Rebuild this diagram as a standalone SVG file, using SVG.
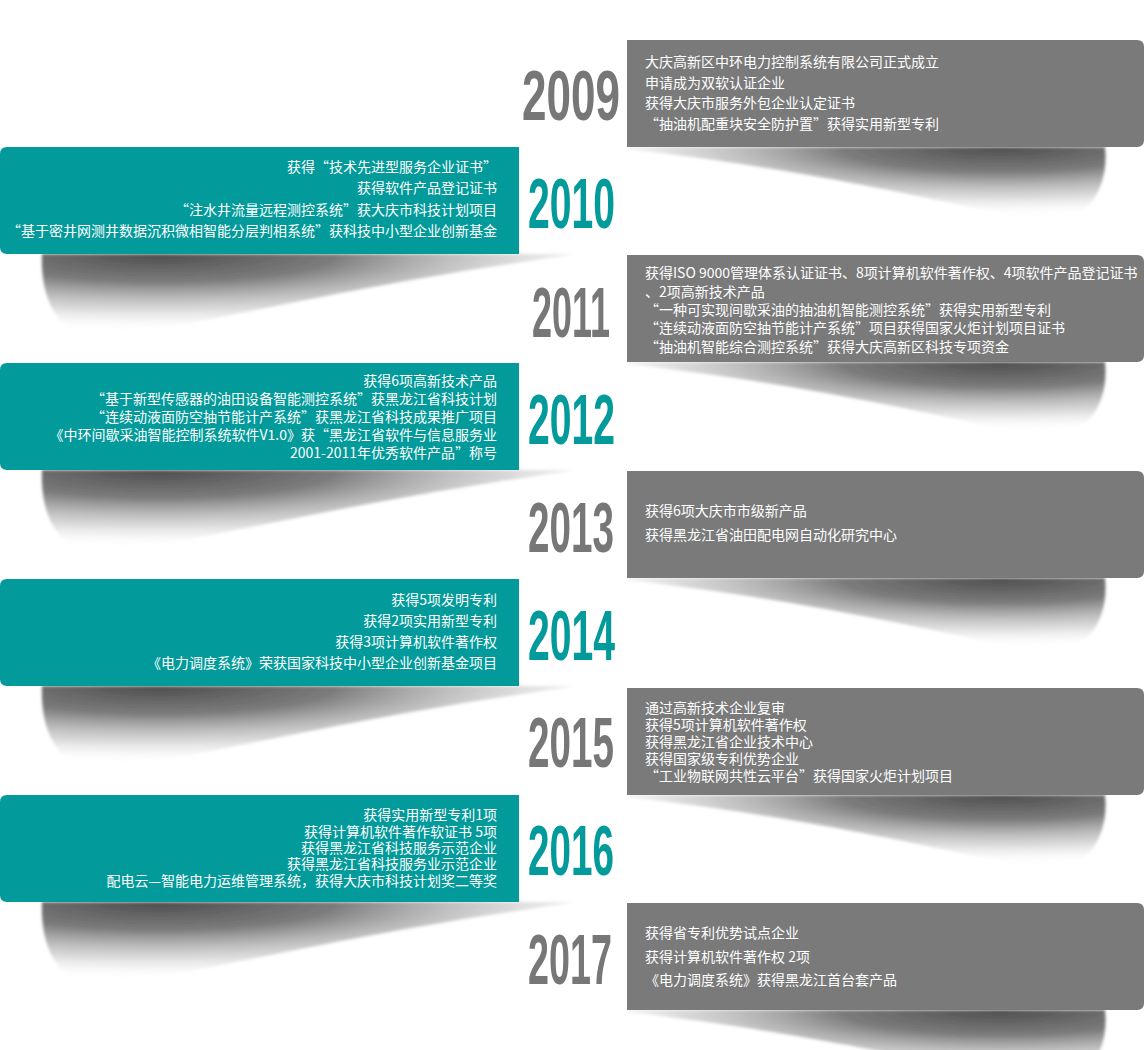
<svg xmlns="http://www.w3.org/2000/svg" width="1144" height="1050" viewBox="0 0 1144 1050">
<style>
.gbox{fill:#7a7a7a}
.tbox{fill:#029a9a}
.txt{font-family:"Noto Sans CJK SC","Liberation Sans",sans-serif;font-size:14px;fill:#ffffff}
.r{text-anchor:end}
.yr{font-family:"Liberation Sans","DejaVu Sans",sans-serif;font-weight:bold;font-size:70px}
.yg{fill:#777777}
.yt{fill:#029a9a}
</style>
<defs>
<radialGradient id="shR" cx="0.78" cy="0" r="0.95" fx="0.78" fy="0">
<stop offset="0" stop-color="#444444" stop-opacity="0.95"/>
<stop offset="0.35" stop-color="#5a5a5a" stop-opacity="0.8"/>
<stop offset="0.7" stop-color="#a0a0a0" stop-opacity="0.4"/>
<stop offset="1" stop-color="#ffffff" stop-opacity="0"/>
</radialGradient>
<radialGradient id="shL" cx="0.22" cy="0" r="0.95" fx="0.22" fy="0">
<stop offset="0" stop-color="#444444" stop-opacity="0.95"/>
<stop offset="0.35" stop-color="#5a5a5a" stop-opacity="0.8"/>
<stop offset="0.7" stop-color="#a0a0a0" stop-opacity="0.4"/>
<stop offset="1" stop-color="#ffffff" stop-opacity="0"/>
</radialGradient>
<filter id="soft" x="-5%" y="-20%" width="110%" height="140%">
<feGaussianBlur stdDeviation="1.5"/>
</filter>
<path id="shadowR" d="M0,0 L478,0 C482,40 462,76 418,74 C370,70 230,28 0,2 Z"/>
<path id="shadowL" d="M530,0 L0,0 C-2,48 18,84 62,83 C120,80 310,30 530,1 Z"/>
</defs>

<g id="shadows">
<use href="#shadowR" x="627" y="147" fill="url(#shR)" filter="url(#soft)"/>
<use href="#shadowL" x="42" y="254" fill="url(#shL)" filter="url(#soft)"/>
<use href="#shadowR" x="627" y="362" fill="url(#shR)" filter="url(#soft)"/>
<use href="#shadowL" x="42" y="470" fill="url(#shL)" filter="url(#soft)"/>
<use href="#shadowR" x="627" y="578" fill="url(#shR)" filter="url(#soft)"/>
<use href="#shadowL" x="42" y="686" fill="url(#shL)" filter="url(#soft)"/>
<use href="#shadowR" x="627" y="795" fill="url(#shR)" filter="url(#soft)"/>
<use href="#shadowL" x="42" y="902" fill="url(#shL)" filter="url(#soft)"/>
<use href="#shadowR" x="627" y="1010" fill="url(#shR)" filter="url(#soft)"/>
</g>

<g id="y2009">
<path class="gbox" d="M627,40 H1137 Q1144,40 1144,47 V140 Q1144,147 1137,147 H627 Z"/>
<text class="yr yg" x="522" y="120" textLength="98" lengthAdjust="spacingAndGlyphs">2009</text>
<text class="txt" x="645" y="67">大庆高新区中环电力控制系统有限公司正式成立</text>
<text class="txt" x="645" y="88">申请成为双软认证企业</text>
<text class="txt" x="645" y="108">获得大庆市服务外包企业认定证书</text>
<text class="txt" x="645" y="129">“抽油机配重块安全防护置”获得实用新型专利</text>
</g>

<g id="y2010">
<path class="tbox" d="M7,147 H519 V254 H7 Q0,254 0,247 V154 Q0,147 7,147 Z"/>
<text class="yr yt" x="528" y="228" textLength="87" lengthAdjust="spacingAndGlyphs">2010</text>
<text class="txt r" x="497" y="172">获得“技术先进型服务企业证书”</text>
<text class="txt r" x="497" y="193">获得软件产品登记证书</text>
<text class="txt r" x="497" y="215">“注水井流量远程测控系统”获大庆市科技计划项目</text>
<text class="txt r" x="497" y="236">“基于密井网测井数据沉积微相智能分层判相系统”获科技中小型企业创新基金</text>
</g>

<g id="y2011">
<path class="gbox" d="M627,255 H1137 Q1144,255 1144,262 V355 Q1144,362 1137,362 H627 Z"/>
<text class="yr yg" x="532" y="337" textLength="78" lengthAdjust="spacingAndGlyphs">2011</text>
<text class="txt" x="645" y="278">获得ISO 9000管理体系认证证书、8项计算机软件著作权、4项软件产品登记证书</text>
<text class="txt" x="645" y="297">、2项高新技术产品</text>
<text class="txt" x="645" y="315">“一种可实现间歇采油的抽油机智能测控系统”获得实用新型专利</text>
<text class="txt" x="645" y="333">“连续动液面防空抽节能计产系统”项目获得国家火炬计划项目证书</text>
<text class="txt" x="645" y="352">“抽油机智能综合测控系统”获得大庆高新区科技专项资金</text>
</g>

<g id="y2012">
<path class="tbox" d="M7,363 H519 V470 H7 Q0,470 0,463 V370 Q0,363 7,363 Z"/>
<text class="yr yt" x="528" y="444" textLength="87" lengthAdjust="spacingAndGlyphs">2012</text>
<text class="txt r" x="497" y="386">获得6项高新技术产品</text>
<text class="txt r" x="497" y="404">“基于新型传感器的油田设备智能测控系统”获黑龙江省科技计划</text>
<text class="txt r" x="497" y="422">“连续动液面防空抽节能计产系统”获黑龙江省科技成果推广项目</text>
<text class="txt r" x="497" y="440">《中环间歇采油智能控制系统软件V1.0》获“黑龙江省软件与信息服务业</text>
<text class="txt r" x="497" y="458">2001-2011年优秀软件产品”称号</text>
</g>

<g id="y2013">
<path class="gbox" d="M627,471 H1137 Q1144,471 1144,478 V571 Q1144,578 1137,578 H627 Z"/>
<text class="yr yg" x="528" y="552" textLength="86" lengthAdjust="spacingAndGlyphs">2013</text>
<text class="txt" x="645" y="516">获得6项大庆市市级新产品</text>
<text class="txt" x="645" y="540">获得黑龙江省油田配电网自动化研究中心</text>
</g>

<g id="y2014">
<path class="tbox" d="M7,579 H519 V686 H7 Q0,686 0,679 V586 Q0,579 7,579 Z"/>
<text class="yr yt" x="528" y="660" textLength="87" lengthAdjust="spacingAndGlyphs">2014</text>
<text class="txt r" x="497" y="605">获得5项发明专利</text>
<text class="txt r" x="497" y="626">获得2项实用新型专利</text>
<text class="txt r" x="497" y="647">获得3项计算机软件著作权</text>
<text class="txt r" x="497" y="668">《电力调度系统》荣获国家科技中小型企业创新基金项目</text>
</g>

<g id="y2015">
<path class="gbox" d="M627,688 H1137 Q1144,688 1144,695 V788 Q1144,795 1137,795 H627 Z"/>
<text class="yr yg" x="528" y="767" textLength="86" lengthAdjust="spacingAndGlyphs">2015</text>
<text class="txt" x="645" y="713">通过高新技术企业复审</text>
<text class="txt" x="645" y="730">获得5项计算机软件著作权</text>
<text class="txt" x="645" y="747">获得黑龙江省企业技术中心</text>
<text class="txt" x="645" y="764">获得国家级专利优势企业</text>
<text class="txt" x="645" y="781">“工业物联网共性云平台”获得国家火炬计划项目</text>
</g>

<g id="y2016">
<path class="tbox" d="M7,795 H519 V902 H7 Q0,902 0,895 V802 Q0,795 7,795 Z"/>
<text class="yr yt" x="528" y="875" textLength="86" lengthAdjust="spacingAndGlyphs">2016</text>
<text class="txt r" x="497" y="820">获得实用新型专利1项</text>
<text class="txt r" x="497" y="837">获得计算机软件著作软证书 5项</text>
<text class="txt r" x="497" y="853">获得黑龙江省科技服务示范企业</text>
<text class="txt r" x="497" y="869">获得黑龙江省科技服务业示范企业</text>
<text class="txt r" x="497" y="886">配电云—智能电力运维管理系统，获得大庆市科技计划奖二等奖</text>
</g>

<g id="y2017">
<path class="gbox" d="M627,903 H1137 Q1144,903 1144,910 V1003 Q1144,1010 1137,1010 H627 Z"/>
<text class="yr yg" x="528" y="984" textLength="84" lengthAdjust="spacingAndGlyphs">2017</text>
<text class="txt" x="645" y="938">获得省专利优势试点企业</text>
<text class="txt" x="645" y="962">获得计算机软件著作权 2项</text>
<text class="txt" x="645" y="985">《电力调度系统》获得黑龙江首台套产品</text>
</g>
</svg>
